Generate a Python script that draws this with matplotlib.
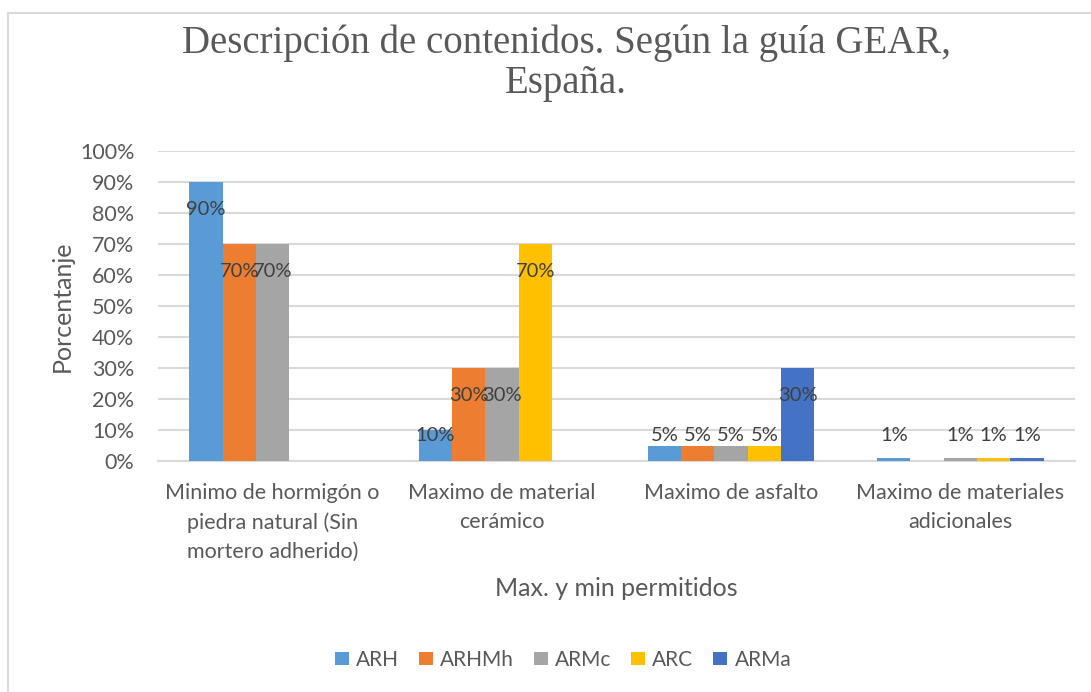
import matplotlib
matplotlib.use("Agg")
import matplotlib.pyplot as plt
import numpy as np
from matplotlib.lines import Line2D
from matplotlib.patches import Patch

categories = [
    "Minimo de hormigón o\npiedra natural (Sin\nmortero adherido)",
    "Maximo de material\ncerámico",
    "Maximo de asfalto",
    "Maximo de materiales\nadicionales",
]
series_names = ["ARH", "ARHMh", "ARMc", "ARC", "ARMa"]
ARH = [90, 10, 5, 1]
ARHMh = [70, 30, 5, np.nan]
ARMc = [70, 30, 5, 1]
ARC = [np.nan, 70, 5, 1]
ARMa = [np.nan, np.nan, 30, 1]
colors = ["#5B9BD5", "#ED7D31", "#A5A5A5", "#FFC000", "#4472C4"]
yticks = [0, 10, 20, 30, 40, 50, 60, 70, 80, 90, 100]

W, H = 1091, 692
fig = plt.figure(figsize=(W / 100, H / 100), dpi=100)
FONT = "Lato"
TXT = "#595959"

# chart border (left and top visible)
fig.add_artist(Line2D([8 / W, 8 / W], [0, 1 - 13 / H], color="#D9D9D9", lw=1.5, transform=fig.transFigure))
fig.add_artist(Line2D([8 / W, 1], [1 - 13 / H, 1 - 13 / H], color="#D9D9D9", lw=1.5, transform=fig.transFigure))

x0, x1 = 158, 1075
y0, y1 = 461, 151
ax = fig.add_axes([x0 / W, 1 - y0 / H, (x1 - x0) / W, (y0 - y1) / H])

data = [ARH, ARHMh, ARMc, ARC, ARMa]
x = np.arange(len(categories))
bw = 33.3 / ((x1 - x0) / 4)
for j, (vals, c) in enumerate(zip(data, colors)):
    pos = x + (j - 2) * bw
    v = np.array(vals, dtype=float)
    ax.bar(pos, np.nan_to_num(v), width=bw, color=c, zorder=3)
    for p, val in zip(pos, v):
        if np.isnan(val):
            continue
        ly = max(val - 9.0, 8.3)
        ax.text(p, ly, f"{int(val)}%", ha="center", va="center", fontsize=14.5,
                color="#404040", family=FONT, zorder=4)

ax.set_xlim(-0.5, len(categories) - 0.5)
ax.set_ylim(0, 100)
ax.set_yticks(yticks)
ax.set_yticklabels([f"{t}%" for t in yticks], family=FONT, fontsize=15.5, color=TXT)
ax.yaxis.grid(True, color="#D9D9D9", lw=1.5, zorder=0)
ax.set_xticks(x)
ax.set_xticklabels(categories, family=FONT, fontsize=15.5, color=TXT, linespacing=1.55)
ax.tick_params(axis="both", length=0)
ax.tick_params(axis="x", pad=16)
ax.tick_params(axis="y", pad=17)
for s in ["top", "right", "left"]:
    ax.spines[s].set_visible(False)
ax.spines["bottom"].set_color("#D9D9D9")
ax.spines["bottom"].set_linewidth(1.5)
ax.set_axisbelow(True)

fig.text(62 / W, 1 - 306 / H, "Porcentanje", rotation=90, ha="center", va="center",
         family=FONT, fontsize=18, color=TXT)
fig.text(616 / W, 1 - 589 / H, "Max. y min permitidos", ha="center", va="center",
         family=FONT, fontsize=18, color=TXT)
fig.text(566 / W, 1 - 63 / H, "Descripción de contenidos. Según la guía GEAR,\nEspaña.",
         ha="center", va="center", family="Liberation Serif", fontsize=28, color=TXT,
         linespacing=1.12)

handles = [Patch(facecolor=c, edgecolor="none") for c in colors]
fig.legend(handles, series_names, loc="center", bbox_to_anchor=(563 / W, 1 - 660 / H),
           ncol=5, frameon=False, prop={"family": FONT, "size": 15},
           handlelength=0.67, handleheight=0.62, handletextpad=0.35, columnspacing=0.95,
           labelcolor=TXT)

fig.savefig("out.png", dpi=100)
